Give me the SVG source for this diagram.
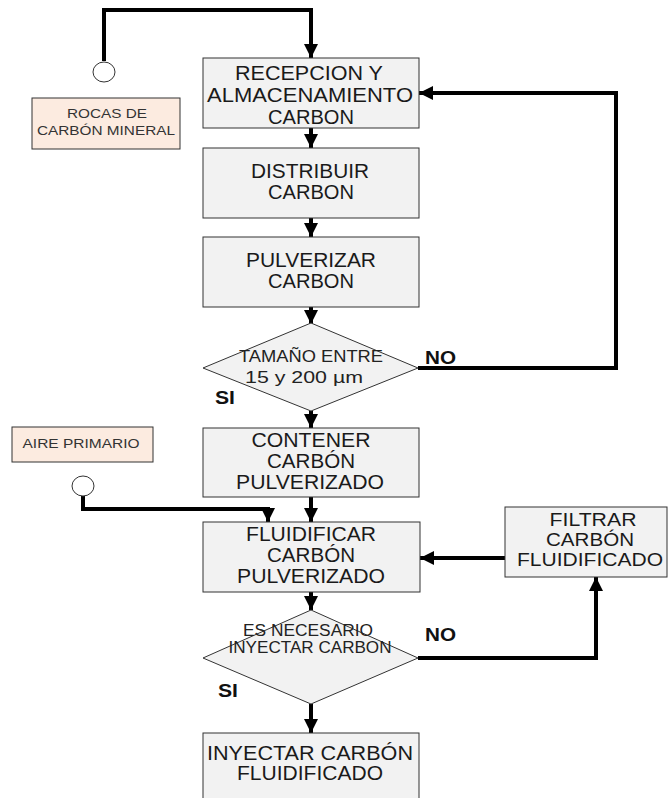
<svg xmlns="http://www.w3.org/2000/svg" width="668" height="798" viewBox="0 0 668 798">
<style>
.box{fill:#f2f2f2;stroke:#333;stroke-width:1}
.src{fill:#fcebe0;stroke:#333;stroke-width:1}
.t{font-family:"Liberation Sans",Arial,sans-serif;font-size:20px;fill:#1a1a1a;text-anchor:middle}
.f{font-size:18px}
.s{font-family:"Liberation Sans",Arial,sans-serif;font-size:13px;fill:#333;text-anchor:middle}
.d{font-family:"Liberation Sans",Arial,sans-serif;font-size:16px;fill:#222;text-anchor:middle}
.lbl{font-family:"Liberation Sans",Arial,sans-serif;font-size:18px;font-weight:bold;fill:#111}
.c{fill:none;stroke:#000;stroke-width:4}
</style>
<defs>
<marker id="ah" viewBox="0 0 10 10" refX="10" refY="5" markerWidth="3.6" markerHeight="3.6" orient="auto" markerUnits="strokeWidth">
<path d="M0,0 L10,5 L0,10 Z" fill="#000"/>
</marker>
</defs>
<rect width="668" height="798" fill="#fff"/>
<g id="connectors">
<path class="c" d="M104,61 V10 H311 V58" marker-end="url(#ah)"/>
<path class="c" d="M311,128 V148" marker-end="url(#ah)"/>
<path class="c" d="M311,218 V237" marker-end="url(#ah)"/>
<path class="c" d="M311,307 V324" marker-end="url(#ah)"/>
<path class="c" d="M418,368 H616 V93 H419" marker-end="url(#ah)"/>
<path class="c" d="M311,411 V428" marker-end="url(#ah)"/>
<path class="c" d="M311,497 V522" marker-end="url(#ah)"/>
<path class="c" d="M83,496 V509 H268 V522" marker-end="url(#ah)"/>
<path class="c" d="M505,558 H420" marker-end="url(#ah)"/>
<path class="c" d="M311,592 V610" marker-end="url(#ah)"/>
<path class="c" d="M418,658 H596 V577" marker-end="url(#ah)"/>
<path class="c" d="M311,704 V733" marker-end="url(#ah)"/>
</g>
<g id="start1"><ellipse cx="104" cy="72" rx="11" ry="10" fill="#fff" stroke="#333"/></g>
<g id="rocas"><rect class="src" x="32" y="98" width="148" height="51"/><text class="s" x="107" y="118" textLength="80" lengthAdjust="spacingAndGlyphs">ROCAS DE</text><text class="s" x="106" y="135" textLength="138" lengthAdjust="spacingAndGlyphs">CARBÓN MINERAL</text></g>
<g id="recepcion"><rect class="box" x="203" y="58" width="216" height="70"/><text class="t" x="309" y="80" textLength="148" lengthAdjust="spacingAndGlyphs">RECEPCION Y</text><text class="t" x="310" y="102" textLength="206" lengthAdjust="spacingAndGlyphs">ALMACENAMIENTO</text><text class="t" x="311" y="124" textLength="86" lengthAdjust="spacingAndGlyphs">CARBON</text></g>
<g id="distribuir"><rect class="box" x="203" y="148" width="216" height="70"/><text class="t" x="310" y="178" textLength="118" lengthAdjust="spacingAndGlyphs">DISTRIBUIR</text><text class="t" x="311" y="199" textLength="86" lengthAdjust="spacingAndGlyphs">CARBON</text></g>
<g id="pulverizar"><rect class="box" x="203" y="237" width="216" height="70"/><text class="t" x="311" y="267" textLength="130" lengthAdjust="spacingAndGlyphs">PULVERIZAR</text><text class="t" x="311" y="288" textLength="86" lengthAdjust="spacingAndGlyphs">CARBON</text></g>
<g id="tamano"><polygon class="box" points="311,323 418,368 311,411 203,368"/><text class="d" x="311" y="362" textLength="144" lengthAdjust="spacingAndGlyphs">TAMAÑO ENTRE</text><text class="d" x="304" y="383" textLength="118" lengthAdjust="spacingAndGlyphs">15  y 200 µm</text><text class="lbl" x="425" y="364" textLength="31" lengthAdjust="spacingAndGlyphs">NO</text><text class="lbl" x="215" y="404" textLength="20" lengthAdjust="spacingAndGlyphs">SI</text></g>
<g id="contener"><rect class="box" x="203" y="428" width="216" height="69"/><text class="t" x="311" y="447" textLength="119" lengthAdjust="spacingAndGlyphs">CONTENER</text><text class="t" x="311" y="468" textLength="88" lengthAdjust="spacingAndGlyphs">CARBÓN</text><text class="t" x="310" y="489" textLength="148" lengthAdjust="spacingAndGlyphs">PULVERIZADO</text></g>
<g id="aire"><rect class="src" x="12" y="427" width="141" height="35"/><text class="s" x="81" y="448" textLength="117" lengthAdjust="spacingAndGlyphs">AIRE PRIMARIO</text></g>
<g id="start2"><ellipse cx="83" cy="486" rx="11" ry="10" fill="#fff" stroke="#333"/></g>
<g id="fluidificar"><rect class="box" x="203" y="522" width="217" height="70"/><text class="t" x="311" y="541" textLength="130" lengthAdjust="spacingAndGlyphs">FLUIDIFICAR</text><text class="t" x="311" y="562" textLength="88" lengthAdjust="spacingAndGlyphs">CARBÓN</text><text class="t" x="311" y="583" textLength="148" lengthAdjust="spacingAndGlyphs">PULVERIZADO</text></g>
<g id="filtrar"><rect class="box" x="505" y="507" width="162" height="70"/><text class="t f" x="593" y="526" textLength="87" lengthAdjust="spacingAndGlyphs">FILTRAR</text><text class="t f" x="590" y="546" textLength="88" lengthAdjust="spacingAndGlyphs">CARBÓN</text><text class="t f" x="590" y="566" textLength="146" lengthAdjust="spacingAndGlyphs">FLUIDIFICADO</text></g>
<g id="necesario"><polygon class="box" points="311,610 418,658 311,704 203,658"/><text class="d" x="308" y="636" textLength="130" lengthAdjust="spacingAndGlyphs">ES NECESARIO</text><text class="d" x="310" y="653" textLength="163" lengthAdjust="spacingAndGlyphs">INYECTAR CARBON</text><text class="lbl" x="425" y="641" textLength="31" lengthAdjust="spacingAndGlyphs">NO</text><text class="lbl" x="218" y="697" textLength="20" lengthAdjust="spacingAndGlyphs">SI</text></g>
<g id="inyectar"><rect class="box" x="203" y="733" width="216" height="80"/><text class="t" x="310" y="760" textLength="206" lengthAdjust="spacingAndGlyphs">INYECTAR CARBÓN</text><text class="t" x="310" y="780" textLength="146" lengthAdjust="spacingAndGlyphs">FLUIDIFICADO</text></g>
</svg>
